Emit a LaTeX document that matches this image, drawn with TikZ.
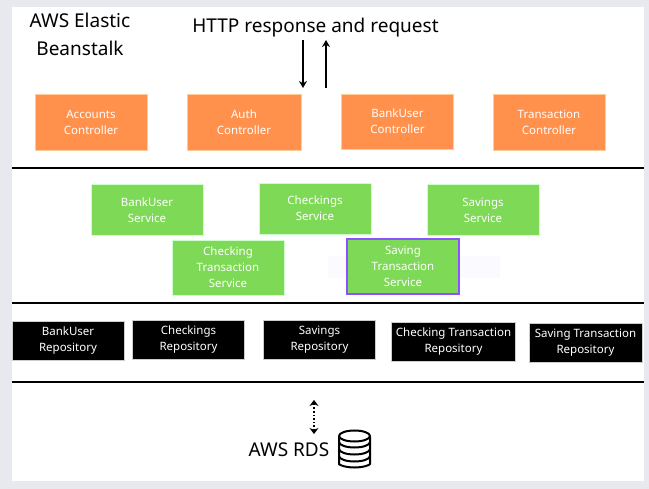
\documentclass[tikz,border=0pt]{standalone}
\usepackage{fontspec}
\setmainfont{Noto Sans}
\usepackage{tikz}
\usetikzlibrary{arrows.meta,positioning}

\begin{document}
\begin{tikzpicture}[x=1pt, y=-1pt, auto]
  % styles
  \tikzstyle{box}=[rectangle, outer sep=0pt, inner sep=0pt, align=center, text=white, font=\fontsize{11.5}{16}\selectfont]
  \tikzstyle{controller}=[box, draw=orange!40!white, fill=ctrlorange, line width=0.5pt, minimum width=112pt, minimum height=56pt]
  \tikzstyle{service}=[box, draw=green!20!white, fill=svcgreen, line width=0.5pt, minimum width=112pt, minimum height=51pt]
  \tikzstyle{repository}=[box, draw=gray!40, fill=black, line width=0.5pt, minimum width=112pt, minimum height=39pt]
  \tikzstyle{heading}=[align=center, text=black, outer sep=0pt, inner sep=0pt, font=\fontsize{19}{28}\selectfont]
  \tikzstyle{divider}=[draw, black, line width=2.2pt]
  \tikzstyle{line}=[draw, line width=1.7pt, -{Stealth[length=7pt,width=8pt]}]
  \tikzstyle{dline}=[draw, line width=1.6pt, dotted, {Stealth[length=6pt,width=9pt]}-{Stealth[length=6pt,width=9pt]}]
  \tikzstyle{disk}=[draw, black, line width=2pt, fill=white]

  \definecolor{ctrlorange}{HTML}{FF914D}
  \definecolor{svcgreen}{HTML}{7ED957}
  \definecolor{pagegray}{HTML}{E8E9EE}
  \definecolor{selpurple}{HTML}{8C52FF}

  % page
  \fill [pagegray] (0,0) rectangle (649,489);
  \useasboundingbox (0,0) rectangle (649,489);
  \fill [white] (12,7) rectangle (644,481);
  \fill [blue!2] (328,256) rectangle (500,278);

  % headings
  \node [heading] (beanstalk) at (80,34) {AWS Elastic\\Beanstalk};
  \node [heading] (http) at (315.5,28) {HTTP response and request};
  \node [heading] (rds) at (289,450) {AWS RDS};

  % controllers
  \node [controller] (accounts_controller) at (91,122) {Accounts\\Controller};
  \node [controller, minimum width=114pt] (auth_controller) at (244,122) {Auth\\Controller};
  \node [controller, minimum height=55pt] (bankuser_controller) at (397.5,121.5) {BankUser\\Controller};
  \node [controller] (transaction_controller) at (549,122) {Transaction\\Controller};

  % services
  \node [service] (bankuser_service) at (147,210) {BankUser\\Service};
  \node [service] (checkings_service) at (315,208.5) {Checkings\\Service};
  \node [service] (savings_service) at (483,210) {Savings\\Service};
  \node [service, minimum height=55pt] (checking_tx_service) at (228,267.5) {Checking\\Transaction\\Service};
  \node [service, minimum height=55pt, draw=selpurple, line width=1.6pt] (saving_tx_service) at (403,266.5) {Saving\\Transaction\\Service};

  % repositories
  \node [repository] (bankuser_repo) at (68,341) {BankUser\\Repository};
  \node [repository] (checkings_repo) at (188.5,340) {Checkings\\Repository};
  \node [repository] (savings_repo) at (319.5,340) {Savings\\Repository};
  \node [repository, minimum width=124pt] (checking_tx_repo) at (453.5,341.5) {Checking Transaction\\Repository};
  \node [repository, minimum width=113pt] (saving_tx_repo) at (585.5,343) {Saving Transaction\\Repository};

  % dividers
  \foreach \y in {168,303,382}
    \draw [divider] (12,\y) -- (644,\y);

  % arrows
  \coordinate (down_top) at (303,40);
  \coordinate (down_bottom) at (303,88);
  \coordinate (up_bottom) at (326,88);
  \coordinate (up_top) at (326,40);
  \coordinate (rds_top) at (314,400);
  \coordinate (rds_bottom) at (314,434);
  \draw [line] (down_top) to (down_bottom);
  \draw [line] (up_bottom) to (up_top);
  \draw [dline] (rds_top) to (rds_bottom);

  % database icon
  \draw [disk, rounded corners=2pt] (339,437) -- (339,462) arc [start angle=180, end angle=360, x radius=15.5pt, y radius=5.5pt] -- (370,437);
  \draw [disk, fill=none] (339,449) arc [start angle=180, end angle=360, x radius=15.5pt, y radius=5.5pt];
  \draw [disk, fill=none] (339,456) arc [start angle=180, end angle=360, x radius=15.5pt, y radius=5.5pt];
  \draw [disk, fill=none] (339,442) arc [start angle=180, end angle=360, x radius=15.5pt, y radius=5.5pt];
  \draw [disk] (354.5,436) ellipse [x radius=15.5pt, y radius=5.5pt];
\end{tikzpicture}
\end{document}
